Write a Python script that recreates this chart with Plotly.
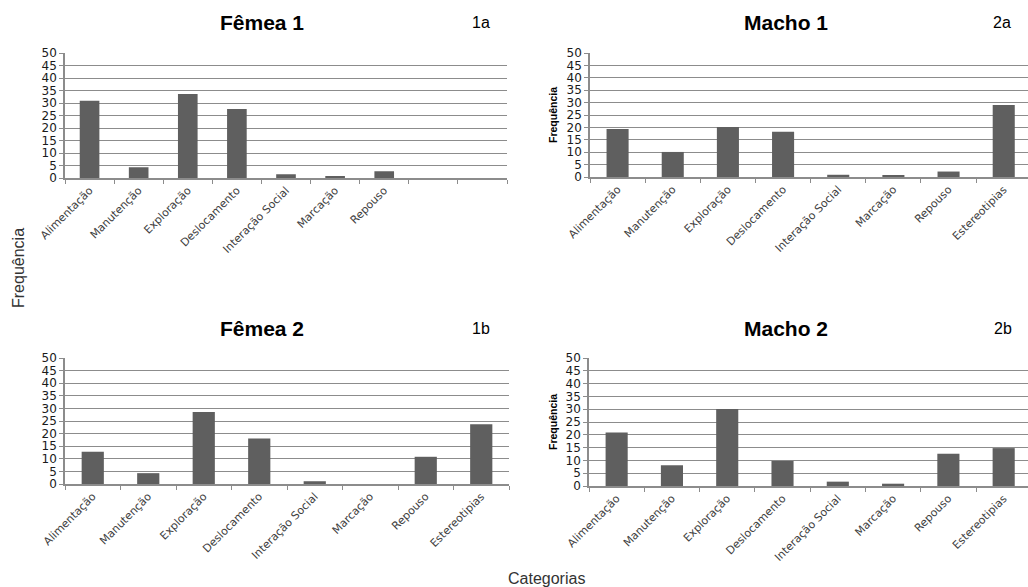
import plotly.graph_objects as go

W, H = 1028, 587

categorias = ["Alimentação", "Manutenção", "Exploração", "Deslocamento",
              "Interação Social", "Marcação", "Repouso", "Estereotipias"]

# Fêmea 1: seven behaviours recorded, plus two empty slots on the axis
categorias_f1 = categorias[:7] + [" ", "  "]
femea1 = [30.9, 4.3, 33.6, 27.6, 1.5, 0.7, 2.7, None, None]
macho1 = [19.4, 10.1, 20.2, 18.2, 0.9, 0.5, 2.2, 29.0]
femea2 = [12.8, 4.3, 28.6, 18.1, 1.1, 0.0, 10.8, 23.7]
macho2 = [20.9, 8.1, 30.1, 9.8, 1.7, 0.9, 12.6, 14.8]

titulos = ["Fêmea 1", "Macho 1", "Fêmea 2", "Macho 2"]
rotulos = ["1a", "2a", "1b", "2b"]
y_ticks = [0, 5, 10, 15, 20, 25, 30, 35, 40, 45, 50]

# panel boxes in pixels: (left, right, top, bottom)
boxes = [(65, 507, 53, 178), (590, 1028, 53, 177),
         (65, 509, 358, 484), (589, 1028, 358, 486)]
series = [(categorias_f1, femea1), (categorias, macho1),
          (categorias, femea2), (categorias, macho2)]

BAR = "#5f5f5f"
GRID = "#8c8c8c"
AXIS = "#8c8c8c"

fig = go.Figure()
layout = dict(width=W, height=H, margin=dict(l=0, r=0, t=0, b=0, autoexpand=False),
              paper_bgcolor="white", plot_bgcolor="white",
              showlegend=False, annotations=[])

for i, ((cats, vals), (l, r, t, b)) in enumerate(zip(series, boxes)):
    n = i + 1
    xa = "x" if n == 1 else f"x{n}"
    ya = "y" if n == 1 else f"y{n}"
    fig.add_trace(go.Bar(x=cats, y=vals, xaxis=xa, yaxis=ya,
                         marker=dict(color=BAR, line=dict(width=0)),
                         width=0.4))
    ncat = len(cats)
    xr = [-0.5, ncat - 0.5]
    if r >= 1028:
        xr = [-0.5, ncat - 0.56]
    layout[f"xaxis{'' if n == 1 else n}"] = dict(
        domain=[l / W, min(r / W, 1)], anchor=ya, type="category",
        range=xr, tickson="boundaries", ticks="outside", ticklen=4,
        tickcolor=AXIS, showline=True, linecolor=AXIS, linewidth=1.5,
        showgrid=False, tickangle=-45, automargin=False,
        tickfont=dict(family="DejaVu Sans", size=11, color="#404040"),
        fixedrange=True)
    layout[f"yaxis{'' if n == 1 else n}"] = dict(
        domain=[1 - b / H, 1 - t / H], anchor=xa, range=[0, 50],
        tickvals=y_ticks, ticks="outside", ticklen=4, tickcolor=AXIS,
        showline=True, linecolor=AXIS, linewidth=1.5, automargin=False,
        showgrid=True, gridcolor=GRID, gridwidth=1.4, zeroline=False,
        tickfont=dict(family="DejaVu Sans", size=12, color="#1a1a1a"),
        fixedrange=True)

# panel titles and tags
title_pos = [(262, 22), (786, 22), (262, 328), (786, 328)]
tag_pos = [(481, 22), (1002, 22), (481, 328), (1003, 328)]
for txt, (px, py) in zip(titulos, title_pos):
    layout["annotations"].append(dict(
        text=f"<b>{txt}</b>", x=px / W, y=1 - py / H, xref="paper", yref="paper",
        showarrow=False, xanchor="center", yanchor="middle",
        font=dict(family="Liberation Sans", size=21, color="#000")))
for txt, (px, py) in zip(rotulos, tag_pos):
    layout["annotations"].append(dict(
        text=txt, x=px / W, y=1 - py / H, xref="paper", yref="paper",
        showarrow=False, xanchor="center", yanchor="middle",
        font=dict(family="Liberation Sans", size=16, color="#000")))

# small axis titles on the right-hand panels
for py in (115, 422):
    layout["annotations"].append(dict(
        text="<b>Frequência</b>", x=553 / W, y=1 - py / H, xref="paper", yref="paper",
        showarrow=False, textangle=-90, xanchor="center", yanchor="middle",
        font=dict(family="Liberation Sans", size=10.5, color="#000")))

# shared axis titles
layout["annotations"].append(dict(
    text="Frequência", x=18 / W, y=1 - 268 / H, xref="paper", yref="paper",
    showarrow=False, textangle=-90, xanchor="center", yanchor="middle",
    font=dict(family="Liberation Sans", size=16, color="#333")))
layout["annotations"].append(dict(
    text="Categorias", x=546 / W, y=1 - 578 / H, xref="paper", yref="paper",
    showarrow=False, xanchor="center", yanchor="middle",
    font=dict(family="Liberation Sans", size=16, color="#333")))

fig.update_layout(**layout)
fig.write_html("out.html")
